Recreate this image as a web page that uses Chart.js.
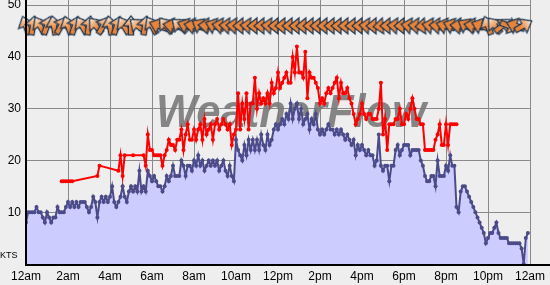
<!DOCTYPE html>
<html><head><meta charset="utf-8">
<script src="https://cdn.jsdelivr.net/npm/chart.js@4"></script>
<style>html,body{margin:0;padding:0;background:#eeeeee;overflow:hidden;}</style>
</head><body>
<canvas id="c" width="550" height="285"></canvas>
<script>
// ---- data ----
const hourLabels = ['12am','2am','4am','6am','8am','10am','12pm','2pm','4pm','6pm','8pm','10pm','12am'];
const yTickLabels = ['', '10', '20', '30', '40', '50'];
const unitLabel = 'KTS';
const step = 0.1;           // hours between samples
const avgStart = 0;
const avgWind = [
 8,10,10,10,10,11,10,10,9,8,
 10,9,8,9,9,11,10,10,10,11,
 12,11,12,11,12,11,12,12,12,11,
 10,11,13,12,9,12,13,12,13,12,
 13,15,12,11,12,13,15,13,12,14,
 15,14,15,14,18,14,15,14,18,17,
 16,17,16,15,15,14,15,17,16,17,
 19,17,17,17,20,19,17,19,19,18,
 20,19,21,19,20,18,19,20,19,20,
 19,20,18,19,20,18,17,19,17,16,
 24,22,21,20,23,21,24,22,24,22,
 24,22,25,23,22,25,23,24,26,27,
 26,27,28,27,29,28,31,28,30,31,
 28,30,27,28,29,26,28,27,29,26,
 25,26,25,26,27,26,26,25,26,25,
 26,25,24,25,24,23,24,21,23,22,
 23,22,21,22,21,21,19,20,25,19,
 18,19,19,16,19,19,22,23,21,22,
 23,23,23,21,22,22,22,22,20,19,
 17,16,16,17,17,15,20,17,17,17,
 19,18,21,19,19,11,10,14,15,15,
 14,13,12,11,10,9,8,7,6,4,
 5,6,6,7,8,6,5,5,5,5,
 4,4,4,4,4,4,3,0,5,6
];
const gustStart = 1.7;
const gustWind = [
 16,16,16,16,16,16,
 null,null,null,null,null,null,null,null,null,null,null,
 17,19,
 null,null,null,null,null,null,null,null,
 18,21,17,21,null,null,null,21,null,null,null,null,21,19,25,22,
 22,21,21,21,21,19,21,22,24,23,
 23,22,24,24,26,22,25,27,24,24,
 26,24,26,27,24,28,25,26,27,24,
 27,28,26,27,28,27,26,27,23,25,
 26,33,26,31,28,33,26,31,31,36,
 30,33,31,32,31,33,31,35,33,34,
 37,34,35,36,37,35,35,40,37,42,
 37,37,36,41,32,37,36,36,35,34,
 31,32,31,33,34,33,34,35,36,32,
 35,33,33,34,32,31,29,27,28,29,
 31,29,28,29,29,28,28,28,30,35,
 25,28,22,27,27,27,28,28,30,27,
 27,29,28,30,32,30,28,28,27,27,
 22,22,22,22,22,24,25,27,23,23,
 27,23,27,27,27,27
];
const dirStep = 1/3;        // hours between direction arrows
const dirHeading = [        // arrow heading, degrees clockwise from east (180 = pointing west)
 250,280,240,290,260,300,
 250,290,240,280,230,300,
 260,290,240,270,220,280,
 240,200,230,190,220,200,
 190,210,185,200,190,185,
 185,180,185,180,180,185,
 180,180,180,180,180,180,
 180,180,180,180,180,180,
 180,185,180,175,180,185,
 180,190,185,175,190,185,
 195,200,185,210,190,200,
 250,230,320,20,200,330
];
const arrowLevel = 46;

// ---- arrow glyphs ----
function makeArrow(gradient){
  const c = document.createElement('canvas'); c.width = 26; c.height = 26;
  const g = c.getContext('2d');
  g.translate(13,13);
  g.beginPath();
  g.moveTo(10,0); g.lineTo(0,-8); g.lineTo(0,-2.6); g.lineTo(-9,-2.6);
  g.lineTo(-9,2.6); g.lineTo(0,2.6); g.lineTo(0,8); g.closePath();
  if (gradient){
    const gr = g.createLinearGradient(10,0,-3,0);
    gr.addColorStop(0,'#ffffff'); gr.addColorStop(0.4,'#f2c198'); gr.addColorStop(1,'#e8843a');
    g.fillStyle = gr;
  } else g.fillStyle = '#e8843a';
  g.fill();
  g.lineWidth = 1.2; g.strokeStyle = '#1b3550'; g.lineJoin='miter';
  g.stroke();
  return c;
}
const arrowSolid = makeArrow(false), arrowGrad = makeArrow(true);

const r1 = v => Math.round(v*100)/100;
const avgData = avgWind.map((v,i)=>({x:r1(avgStart+i*step), y:v}));
const gustData = gustWind.map((v,i)=>({x:r1(gustStart+i*step), y:v}));
const dirData = dirHeading.map((d,i)=>({x:r1(i*dirStep), y:arrowLevel}));
const dirStyles = dirHeading.map(d => (d>=215 || d<=20) ? arrowGrad : arrowSolid);

const bgPlugin = {
  id:'bg',
  beforeDraw(chart){
    const c = chart.ctx; c.save(); c.fillStyle='#eeeeee';
    c.fillRect(0,0,chart.width,chart.height); c.restore();
  },
  beforeDatasetsDraw(chart){
    const c = chart.ctx; c.save();
    c.font = 'italic bold 46px "Liberation Sans", Arial, sans-serif';
    const w = c.measureText('WeatherFlow').width;
    c.translate(156,127); c.scale(270/w,1);
    c.fillStyle = 'rgba(118,118,118,0.88)';
    c.fillText('WeatherFlow',0,0);
    c.restore();
  },
  afterDatasetsDraw(chart){
    const c = chart.ctx, a = chart.chartArea; c.save();
    c.strokeStyle = '#000'; c.lineWidth = 2;
    c.beginPath(); c.moveTo(a.left, 0); c.lineTo(a.left, a.bottom+2); c.stroke();
    c.beginPath(); c.moveTo(a.left, a.bottom+1); c.lineTo(chart.width, a.bottom+1); c.stroke();
    c.fillStyle = '#000'; c.font = '9px "Liberation Sans", Arial, sans-serif';
    c.textBaseline = 'middle'; c.textAlign = 'left';
    c.fillText(unitLabel, 0, a.bottom - 8);
    c.restore();
  }
};

new Chart(document.getElementById('c'), {
  type:'line',
  data:{ datasets:[
    { data:dirData, showLine:false, pointStyle:dirStyles, rotation:dirHeading,
      pointRadius:9, clip:false, order:0 },
    { data:gustData, borderColor:'#ff0000', backgroundColor:'#ff0000', borderWidth:2,
      pointRadius:2, pointBorderWidth:0, pointBackgroundColor:'#ff0000', spanGaps:true,
      fill:false, tension:0, order:1 },
    { data:avgData, borderColor:'#4b4b8a', backgroundColor:'#ccccff', borderWidth:2,
      pointRadius:2, pointBorderWidth:0, pointBackgroundColor:'#4b4b8a',
      fill:'origin', tension:0, order:2 }
  ]},
  options:{
    responsive:false, animation:false, devicePixelRatio:1,
    layout:{ autoPadding:false, padding:{ left:0, right:20, top:0, bottom:0 } },
    plugins:{ legend:{display:false}, tooltip:{enabled:false} },
    scales:{
      x:{ type:'linear', min:0, max:24,
        afterFit(s){ s.height = 21; s.paddingLeft = 0; s.paddingRight = 0; },
        grid:{ color:'#8a8a8a', lineWidth:1, drawTicks:false },
        border:{ display:false },
        ticks:{ stepSize:2, padding:5, color:'#000', maxRotation:0, autoSkip:false,
          font:{ family:'"Liberation Sans", Arial, sans-serif', size:12 },
          callback:(v)=> hourLabels[Math.round(v/2)] }
      },
      y:{ min:0, max:51,
        afterFit(s){ s.width = 26; s.paddingTop = 0; s.paddingBottom = 0; },
        grid:{ color:'#8a8a8a', lineWidth:1, drawTicks:false },
        border:{ display:false },
        ticks:{ stepSize:10, includeBounds:false, padding:5, color:'#000',
          font:{ family:'"Liberation Sans", Arial, sans-serif', size:12 },
          callback:(v)=> yTickLabels[Math.round(v/10)] }
      }
    }
  },
  plugins:[bgPlugin]
});
</script>
</body></html>
